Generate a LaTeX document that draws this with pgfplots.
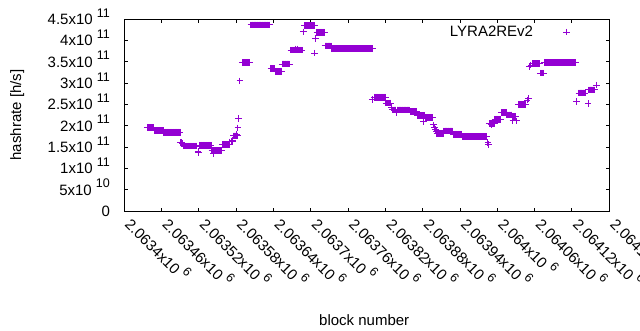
\documentclass[border=0pt]{standalone}
\usepackage{pgfplots}
\pgfplotsset{compat=1.18}
\usepackage{pgfplotstable}
\usepackage{fontspec}
\setmainfont{Liberation Sans}
\definecolor{gpviolet}{RGB}{148,0,211}
\newcommand{\sci}[2]{#1x10 \raisebox{7.3pt}{\fontsize{12.5}{12.5}\selectfont #2}}

% off = block number - 2063400 ; hr = hashrate [h/s]
\pgfplotstableread[row sep=\\]{
off hr\\
37 1.96e11\\
38 1.955e11\\ 39 1.955e11\\ 40 1.955e11\\ 41 1.955e11\\ 42 1.955e11\\ 43 1.955e11\\ 44 1.955e11\\ 45 1.955e11\\ 46 1.955e11\\ 47 1.955e11\\ 48 1.955e11\\
49 1.89e11\\ 50 1.89e11\\ 51 1.89e11\\ 52 1.89e11\\ 53 1.89e11\\ 54 1.89e11\\ 55 1.89e11\\ 56 1.89e11\\ 57 1.89e11\\ 58 1.89e11\\ 59 1.89e11\\ 60 1.89e11\\ 61 1.89e11\\ 62 1.89e11\\ 63 1.89e11\\
64 1.845e11\\ 65 1.845e11\\ 66 1.845e11\\ 67 1.845e11\\ 68 1.845e11\\ 69 1.845e11\\ 70 1.845e11\\ 71 1.845e11\\ 72 1.845e11\\ 73 1.845e11\\ 74 1.845e11\\ 75 1.845e11\\ 76 1.845e11\\ 77 1.845e11\\
78 1.845e11\\ 79 1.845e11\\ 80 1.845e11\\ 81 1.845e11\\ 82 1.845e11\\ 83 1.845e11\\ 84 1.845e11\\ 85 1.845e11\\ 86 1.845e11\\ 87 1.845e11\\ 88 1.845e11\\ 89 1.845e11\\ 90 1.845e11\\
91 1.60e11\\ 93 1.61e11\\ 94 1.59e11\\
96 1.52e11\\ 97 1.52e11\\ 98 1.52e11\\ 99 1.52e11\\ 100 1.52e11\\ 101 1.52e11\\ 102 1.52e11\\ 103 1.52e11\\ 104 1.52e11\\ 105 1.52e11\\ 106 1.52e11\\
107 1.52e11\\ 108 1.52e11\\ 109 1.52e11\\ 110 1.52e11\\ 111 1.52e11\\ 112 1.52e11\\ 113 1.52e11\\ 114 1.52e11\\ 115 1.52e11\\ 116 1.52e11\\ 117 1.52e11\\
119 1.39e11\\ 120 1.36e11\\
122 1.54e11\\ 123 1.54e11\\ 124 1.54e11\\ 125 1.54e11\\ 126 1.54e11\\ 127 1.54e11\\ 128 1.54e11\\ 129 1.54e11\\ 130 1.54e11\\ 131 1.54e11\\
132 1.54e11\\ 133 1.54e11\\ 134 1.54e11\\ 135 1.54e11\\ 136 1.54e11\\ 137 1.54e11\\ 138 1.54e11\\ 139 1.54e11\\ 140 1.54e11\\
141 1.42e11\\ 142 1.42e11\\ 143 1.42e11\\ 145 1.42e11\\ 146 1.42e11\\ 147 1.42e11\\ 148 1.42e11\\ 149 1.42e11\\ 150 1.42e11\\
151 1.42e11\\ 152 1.42e11\\ 153 1.42e11\\ 154 1.42e11\\ 155 1.42e11\\ 156 1.42e11\\ 157 1.42e11\\ 144 1.35e11\\
158 1.56e11\\ 159 1.56e11\\ 160 1.56e11\\ 161 1.56e11\\ 162 1.56e11\\ 163 1.56e11\\ 164 1.56e11\\ 165 1.56e11\\ 166 1.56e11\\ 167 1.56e11\\ 168 1.56e11\\ 169 1.56e11\\
170 1.62e11\\ 172 1.64e11\\ 174 1.66e11\\ 175 1.62e11\\
176 1.76e11\\ 177 1.76e11\\ 178 1.76e11\\ 179 1.76e11\\ 180 1.76e11\\ 182 1.76e11\\ 181 1.80e11\\
183 1.95e11\\ 184 2.17e11\\ 186 3.05e11\\
190 3.48e11\\ 191 3.48e11\\ 192 3.48e11\\ 193 3.48e11\\ 194 3.48e11\\ 195 3.48e11\\ 196 3.48e11\\ 197 3.48e11\\ 198 3.48e11\\ 199 3.48e11\\ 200 3.48e11\\ 201 3.48e11\\ 202 3.48e11\\
204 4.36e11\\ 205 4.36e11\\ 206 4.36e11\\ 207 4.36e11\\ 208 4.36e11\\ 209 4.36e11\\ 210 4.36e11\\ 211 4.36e11\\ 212 4.36e11\\ 213 4.36e11\\ 214 4.36e11\\
215 4.36e11\\ 216 4.36e11\\ 217 4.36e11\\ 218 4.36e11\\ 219 4.36e11\\ 220 4.36e11\\ 221 4.36e11\\ 222 4.36e11\\ 223 4.36e11\\ 224 4.36e11\\ 225 4.36e11\\
226 4.36e11\\ 227 4.36e11\\ 228 4.36e11\\ 229 4.36e11\\ 230 4.36e11\\ 231 4.36e11\\ 232 4.36e11\\ 233 4.36e11\\ 234 4.36e11\\
236 3.34e11\\ 237 3.34e11\\ 238 3.34e11\\ 239 3.34e11\\ 240 3.34e11\\ 241 3.34e11\\ 242 3.34e11\\
243 3.27e11\\ 244 3.27e11\\ 245 3.27e11\\ 246 3.27e11\\ 247 3.27e11\\ 248 3.27e11\\ 249 3.27e11\\ 250 3.27e11\\ 251 3.27e11\\ 252 3.27e11\\ 253 3.27e11\\
254 3.445e11\\ 255 3.445e11\\ 256 3.445e11\\ 257 3.445e11\\ 258 3.445e11\\ 259 3.445e11\\ 260 3.445e11\\ 261 3.445e11\\ 262 3.445e11\\ 263 3.445e11\\ 264 3.445e11\\ 265 3.445e11\\ 266 3.445e11\\
268 3.77e11\\ 269 3.77e11\\ 270 3.77e11\\ 271 3.77e11\\ 272 3.77e11\\ 273 3.77e11\\ 274 3.77e11\\ 276 3.77e11\\ 277 3.77e11\\ 278 3.77e11\\
280 3.77e11\\ 281 3.77e11\\ 282 3.77e11\\ 283 3.77e11\\ 284 3.77e11\\ 285 3.77e11\\ 286 3.77e11\\ 275 3.80e11\\ 279 3.80e11\\
288 4.20e11\\
290 4.35e11\\ 291 4.35e11\\ 292 4.35e11\\ 293 4.35e11\\ 294 4.35e11\\ 295 4.35e11\\ 296 4.35e11\\ 297 4.35e11\\ 298 4.35e11\\
299 4.35e11\\ 300 4.35e11\\ 301 4.35e11\\ 302 4.35e11\\ 303 4.35e11\\ 304 4.35e11\\ 305 4.35e11\\ 306 4.35e11\\
306 3.70e11\\ 308 4.05e11\\
310 4.19e11\\ 311 4.19e11\\ 312 4.19e11\\ 313 4.19e11\\ 314 4.19e11\\ 315 4.19e11\\ 316 4.19e11\\ 317 4.19e11\\ 318 4.19e11\\ 319 4.19e11\\ 320 4.19e11\\ 321 4.19e11\\ 322 4.19e11\\
323 3.87e11\\ 324 3.87e11\\ 325 3.87e11\\ 326 3.87e11\\ 327 3.87e11\\ 328 3.87e11\\ 329 3.87e11\\ 330 3.87e11\\ 331 3.87e11\\ 332 3.87e11\\ 333 3.87e11\\
334 3.81e11\\ 335 3.81e11\\ 336 3.81e11\\ 337 3.81e11\\ 338 3.81e11\\ 339 3.81e11\\ 340 3.81e11\\ 341 3.81e11\\ 342 3.81e11\\ 343 3.81e11\\ 344 3.81e11\\
345 3.81e11\\ 346 3.81e11\\ 347 3.81e11\\ 348 3.81e11\\ 349 3.81e11\\ 350 3.81e11\\ 351 3.81e11\\ 352 3.81e11\\ 353 3.81e11\\ 354 3.81e11\\ 355 3.81e11\\
356 3.81e11\\ 357 3.81e11\\ 358 3.81e11\\ 359 3.81e11\\ 360 3.81e11\\ 361 3.81e11\\ 362 3.81e11\\ 363 3.81e11\\ 364 3.81e11\\ 365 3.81e11\\ 366 3.81e11\\
367 3.81e11\\ 368 3.81e11\\ 369 3.81e11\\ 370 3.81e11\\ 371 3.81e11\\ 372 3.81e11\\ 373 3.81e11\\ 374 3.81e11\\ 375 3.81e11\\ 376 3.81e11\\ 377 3.81e11\\
378 3.81e11\\ 379 3.81e11\\ 380 3.81e11\\ 381 3.81e11\\ 382 3.81e11\\ 383 3.81e11\\ 384 3.81e11\\ 385 3.81e11\\ 386 3.81e11\\ 387 3.81e11\\ 388 3.81e11\\
389 3.81e11\\ 390 3.81e11\\ 391 3.81e11\\ 392 3.81e11\\ 393 3.81e11\\ 394 3.81e11\\ 395 3.81e11\\ 396 3.81e11\\ 397 3.81e11\\ 398 3.81e11\\ 400 3.81e11\\
399 2.62e11\\
402 2.665e11\\ 403 2.665e11\\ 404 2.665e11\\ 405 2.665e11\\ 406 2.665e11\\ 407 2.665e11\\ 408 2.665e11\\ 409 2.665e11\\ 410 2.665e11\\ 411 2.665e11\\
412 2.665e11\\ 413 2.665e11\\ 414 2.665e11\\ 415 2.665e11\\ 416 2.665e11\\ 417 2.665e11\\ 418 2.665e11\\ 419 2.665e11\\ 420 2.665e11\\
421 2.53e11\\ 422 2.53e11\\ 423 2.53e11\\ 424 2.53e11\\ 425 2.53e11\\ 426 2.53e11\\ 427 2.53e11\\ 428 2.53e11\\ 429 2.53e11\\
430 2.42e11\\
431 2.37e11\\ 432 2.37e11\\ 433 2.37e11\\ 434 2.37e11\\ 435 2.37e11\\ 436 2.37e11\\ 437 2.37e11\\ 439 2.37e11\\ 440 2.37e11\\ 441 2.37e11\\
442 2.37e11\\ 443 2.37e11\\ 444 2.37e11\\ 445 2.37e11\\ 446 2.37e11\\ 447 2.37e11\\ 448 2.37e11\\ 449 2.37e11\\ 450 2.37e11\\ 451 2.37e11\\
452 2.37e11\\ 453 2.37e11\\ 454 2.37e11\\ 455 2.37e11\\ 456 2.37e11\\ 457 2.37e11\\ 458 2.37e11\\ 459 2.37e11\\ 438 2.31e11\\
460 2.33e11\\ 461 2.33e11\\ 462 2.33e11\\ 463 2.33e11\\ 464 2.33e11\\ 465 2.33e11\\ 466 2.33e11\\ 467 2.33e11\\ 468 2.33e11\\ 469 2.33e11\\ 470 2.33e11\\
471 2.24e11\\ 472 2.24e11\\ 473 2.24e11\\ 474 2.24e11\\ 475 2.24e11\\ 476 2.24e11\\ 477 2.24e11\\ 478 2.24e11\\ 479 2.24e11\\ 480 2.24e11\\ 482 2.24e11\\ 483 2.24e11\\
481 2.09e11\\
484 2.19e11\\ 485 2.19e11\\ 486 2.19e11\\ 487 2.19e11\\ 488 2.19e11\\ 489 2.19e11\\ 490 2.19e11\\ 491 2.19e11\\ 492 2.19e11\\ 493 2.19e11\\ 494 2.19e11\\ 495 2.19e11\\ 496 2.19e11\\
497 2.02e11\\ 499 1.96e11\\ 501 1.91e11\\ 502 1.86e11\\
503 1.82e11\\ 504 1.82e11\\ 505 1.82e11\\ 506 1.82e11\\ 507 1.82e11\\ 508 1.82e11\\ 509 1.82e11\\ 510 1.82e11\\ 511 1.82e11\\ 512 1.82e11\\ 513 1.82e11\\
514 1.875e11\\ 515 1.875e11\\ 516 1.875e11\\ 517 1.875e11\\ 518 1.875e11\\ 519 1.875e11\\ 520 1.875e11\\ 521 1.875e11\\
522 1.875e11\\ 523 1.875e11\\ 524 1.875e11\\ 525 1.875e11\\ 526 1.875e11\\ 527 1.875e11\\ 528 1.875e11\\
529 1.80e11\\ 530 1.80e11\\ 531 1.80e11\\ 532 1.80e11\\ 533 1.80e11\\ 534 1.80e11\\ 535 1.80e11\\ 536 1.80e11\\
537 1.80e11\\ 538 1.80e11\\ 539 1.80e11\\ 540 1.80e11\\ 541 1.80e11\\ 542 1.80e11\\ 543 1.80e11\\
544 1.74e11\\ 545 1.74e11\\ 546 1.74e11\\ 547 1.74e11\\ 548 1.74e11\\ 549 1.74e11\\ 550 1.74e11\\ 551 1.74e11\\ 552 1.74e11\\ 553 1.74e11\\
554 1.74e11\\ 555 1.74e11\\ 556 1.74e11\\ 557 1.74e11\\ 558 1.74e11\\ 559 1.74e11\\ 560 1.74e11\\ 561 1.74e11\\ 562 1.74e11\\ 563 1.74e11\\
564 1.74e11\\ 565 1.74e11\\ 566 1.74e11\\ 567 1.74e11\\ 568 1.74e11\\ 569 1.74e11\\ 570 1.74e11\\ 571 1.74e11\\ 572 1.74e11\\ 573 1.74e11\\
574 1.74e11\\ 575 1.74e11\\ 576 1.74e11\\ 577 1.74e11\\ 578 1.74e11\\ 579 1.74e11\\ 580 1.74e11\\ 581 1.74e11\\ 582 1.74e11\\ 583 1.74e11\\
585 1.60e11\\ 586 1.56e11\\
587 2.055e11\\ 588 2.055e11\\ 589 2.055e11\\ 591 2.055e11\\ 592 2.055e11\\ 593 2.055e11\\ 594 2.055e11\\ 595 2.055e11\\ 590 2.03e11\\
596 2.15e11\\ 597 2.15e11\\ 598 2.15e11\\ 599 2.15e11\\ 600 2.15e11\\ 601 2.15e11\\ 602 2.15e11\\ 603 2.15e11\\ 604 2.15e11\\ 605 2.15e11\\
606 2.31e11\\ 607 2.31e11\\ 608 2.31e11\\ 609 2.31e11\\ 610 2.31e11\\ 611 2.31e11\\ 612 2.31e11\\ 613 2.31e11\\ 614 2.31e11\\
615 2.25e11\\ 616 2.25e11\\ 617 2.25e11\\ 618 2.25e11\\ 619 2.25e11\\ 620 2.25e11\\ 621 2.25e11\\ 622 2.25e11\\ 623 2.25e11\\
624 2.21e11\\ 626 2.21e11\\ 627 2.21e11\\ 628 2.21e11\\ 629 2.21e11\\ 630 2.21e11\\ 625 2.11e11\\ 631 2.11e11\\
634 2.50e11\\ 635 2.50e11\\ 636 2.50e11\\ 637 2.50e11\\ 638 2.50e11\\ 639 2.50e11\\ 640 2.50e11\\ 641 2.50e11\\ 642 2.50e11\\ 643 2.50e11\\ 644 2.50e11\\ 645 2.50e11\\ 646 2.50e11\\
648 2.60e11\\ 650 2.64e11\\
652 3.38e11\\ 654 3.42e11\\
656 3.46e11\\ 657 3.46e11\\ 658 3.46e11\\ 659 3.46e11\\ 660 3.46e11\\ 661 3.46e11\\ 662 3.46e11\\ 663 3.46e11\\ 664 3.46e11\\ 665 3.46e11\\ 666 3.46e11\\ 667 3.46e11\\ 668 3.46e11\\
669 3.23e11\\ 670 3.23e11\\ 671 3.23e11\\ 672 3.23e11\\ 673 3.23e11\\ 674 3.23e11\\ 675 3.23e11\\
676 3.475e11\\ 677 3.475e11\\ 678 3.475e11\\ 679 3.475e11\\ 680 3.475e11\\ 681 3.475e11\\ 682 3.475e11\\ 683 3.475e11\\ 684 3.475e11\\ 685 3.475e11\\
686 3.475e11\\ 687 3.475e11\\ 688 3.475e11\\ 689 3.475e11\\ 690 3.475e11\\ 691 3.475e11\\ 692 3.475e11\\ 693 3.475e11\\ 694 3.475e11\\ 695 3.475e11\\
696 3.475e11\\ 697 3.475e11\\ 698 3.475e11\\ 699 3.475e11\\ 700 3.475e11\\ 701 3.475e11\\ 702 3.475e11\\ 703 3.475e11\\ 704 3.475e11\\ 705 3.475e11\\
706 3.475e11\\ 707 3.475e11\\ 708 3.475e11\\ 709 3.475e11\\ 710 3.475e11\\ 711 3.475e11\\ 712 3.475e11\\ 713 3.475e11\\ 714 3.475e11\\ 715 3.475e11\\
716 3.475e11\\ 717 3.475e11\\ 718 3.475e11\\ 719 3.475e11\\ 720 3.475e11\\ 721 3.475e11\\ 722 3.475e11\\ 723 3.475e11\\ 724 3.475e11\\ 725 3.475e11\\ 726 3.475e11\\
727 2.56e11\\
731 2.765e11\\ 732 2.765e11\\ 733 2.765e11\\ 734 2.765e11\\ 735 2.765e11\\ 736 2.765e11\\ 737 2.765e11\\ 738 2.765e11\\ 739 2.765e11\\ 740 2.765e11\\ 741 2.765e11\\
746 2.52e11\\
747 2.84e11\\ 748 2.84e11\\ 749 2.84e11\\ 750 2.84e11\\ 751 2.84e11\\ 752 2.84e11\\ 753 2.84e11\\ 754 2.84e11\\ 755 2.84e11\\ 756 2.84e11\\ 757 2.84e11\\
759 2.95e11\\
}\hashdata

\begin{document}
\begin{tikzpicture}[font=\fontsize{15}{18}\selectfont]
\useasboundingbox (0,0) rectangle (640pt,330pt);
\begin{axis}[
  at={(124.1pt,119pt)}, anchor=south west,
  scale only axis, width=485.2pt, height=192pt,
  xmin=0, xmax=780, ymin=0, ymax=4.5e11,
  scaled x ticks=false, scaled y ticks=false,
  xtick={0,60,120,180,240,300,360,420,480,540,600,660,720,780},
  xticklabels={\sci{2.0634}{6},\sci{2.06346}{6},\sci{2.06352}{6},\sci{2.06358}{6},\sci{2.06364}{6},\sci{2.0637}{6},\sci{2.06376}{6},\sci{2.06382}{6},\sci{2.06388}{6},\sci{2.06394}{6},\sci{2.064}{6},\sci{2.06406}{6},\sci{2.06412}{6},\sci{2.06418}{6}},
  ytick={0,5e10,1e11,1.5e11,2e11,2.5e11,3e11,3.5e11,4e11,4.5e11},
  yticklabels={0,\sci{5}{10},\sci{1}{11},\sci{1.5}{11},\sci{2}{11},\sci{2.5}{11},\sci{3}{11},\sci{3.5}{11},\sci{4}{11},\sci{4.5}{11}},
  tick align=inside, major tick length=3.5pt,
  axis line style={line width=1pt},
  every tick/.style={black, line width=1pt},
  xticklabel style={rotate=-45, anchor=base west, inner sep=0pt},
  xticklabel shift=14.5pt,
  yticklabel style={anchor=base east, inner sep=0pt, xshift=-14pt, yshift=-5.4pt},
  xlabel={block number}, ylabel={hashrate [h/s]},
  x label style={at={([xshift=-2.5pt,yshift=-114.3pt]axis description cs:0.5,0)}, anchor=base},
  y label style={at={([xshift=-103pt]axis description cs:0,0.5)}, anchor=base},
  legend plot pos=right,
  legend style={draw=none, fill=none, inner sep=0pt, at={(0.9196,0.932)}, anchor=east,
    column sep=30.4pt, nodes={inner sep=0pt}},
  legend image code/.code={\draw[#1] plot coordinates {(0pt,0pt)};},
]
\addplot[only marks, mark=+, mark size=3.3pt, color=gpviolet, mark options={line width=1pt}]
  table[x=off, y=hr] {\hashdata};
\addlegendentry{LYRA2REv2}
\end{axis}
\end{tikzpicture}
\end{document}
